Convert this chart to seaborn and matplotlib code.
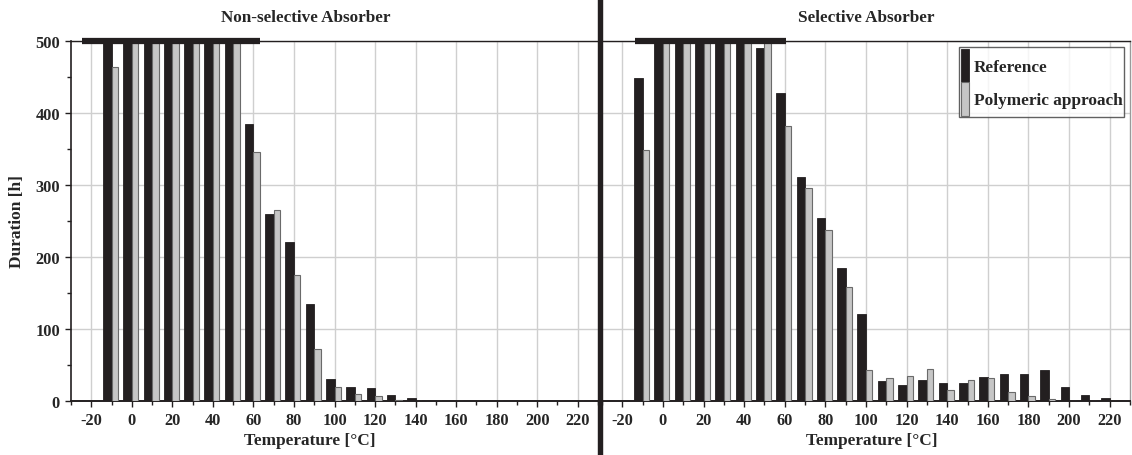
import seaborn as sns
import numpy as np
import matplotlib.pyplot as plt
from matplotlib.lines import Line2D
from matplotlib.ticker import MultipleLocator

# temperature bins [°C] and durations [h]; values above 500 are clipped at the top
temps = [-10, 0, 10, 20, 30, 40, 50, 60, 70, 80, 90, 100, 110, 120, 130, 140,
         150, 160, 170, 180, 190, 200, 210, 220]

ns_reference = [500, 500, 500, 500, 500, 500, 500, 384, 259, 221, 134, 30, 19.5, 18, 8, 3.5,
                0, 0, 0, 0, 0, 0, 0, 0]
ns_polymeric = [463, 500, 500, 500, 500, 500, 500, 345, 265, 174, 72, 18.5, 10, 7, 1.5, 0,
                0, 0, 0, 0, 0, 0, 0, 0]

sel_reference = [448, 500, 500, 500, 500, 500, 490, 428, 311, 254, 185, 121, 28, 22, 29, 24.5,
                 24.5, 33, 37, 37, 43, 19, 8, 3.7]
sel_polymeric = [348, 500, 500, 500, 500, 500, 500, 382, 296, 237, 157.5, 42.5, 31, 35, 43.5, 15,
                 28.5, 31, 11.5, 6, 2, 0, 0, 0]

panels = [("Non-selective Absorber", ns_reference, ns_polymeric, (-24.7, 63)),
          ("Selective Absorber", sel_reference, sel_polymeric, (-13.7, 60.6))]

sns.set_style("white")
plt.rcParams['font.family'] = ['Liberation Serif', 'DejaVu Serif']
plt.rcParams['font.weight'] = 'bold'
plt.rcParams['axes.labelweight'] = 'bold'
plt.rcParams['axes.unicode_minus'] = False

black = '#231f20'
grey = '#c6c6c6'

fig = plt.figure(figsize=(11.32, 4.56), dpi=100)
ax1 = fig.add_axes([71 / 1132, 1 - 401.7 / 456, 527 / 1132, 360 / 456])
ax2 = fig.add_axes([602 / 1132, 1 - 401.7 / 456, 528 / 1132, 360 / 456])

for i, (ax, (title, ref, poly, cap)) in enumerate(zip([ax1, ax2], panels)):
    ax.bar(temps, ref, width=-4.2, align='edge', color=black, edgecolor=black,
           linewidth=0.6, label='Reference', zorder=3)
    ax.bar(temps, poly, width=3.2, align='edge', color=grey, edgecolor='#6a6a6a',
           linewidth=0.8, label='Polymeric approach', zorder=3)
    ax.set_xlim(-30, 230)
    ax.set_ylim(0, 500)
    ax.xaxis.set_major_locator(MultipleLocator(20))
    ax.xaxis.set_minor_locator(MultipleLocator(10))
    ax.yaxis.set_major_locator(MultipleLocator(100))
    ax.yaxis.set_minor_locator(MultipleLocator(50))
    ax.grid(True, which='major', color='#cfcfcf', linewidth=1.0, zorder=0)
    ax.set_axisbelow(True)
    ax.tick_params(axis='x', which='major', direction='out', length=4, width=1,
                   color=black, labelsize=11.8, pad=4, bottom=True)
    ax.tick_params(axis='x', which='minor', direction='out', length=3, width=1,
                   color=black, bottom=True)
    for lab in ax.get_xticklabels():
        lab.set_fontweight('bold')
    ax.spines['bottom'].set_linewidth(1.4)
    ax.spines['bottom'].set_color(black)
    ax.spines['top'].set_linewidth(1.0)
    ax.spines['top'].set_color(black)
    # thick bar marking the clipped columns
    ax.hlines(500, cap[0], cap[1], color=black, linewidth=4.5, clip_on=False, zorder=5)
    ax.set_xlabel("Temperature [°C]", fontsize=12.4, fontweight='bold')

    if i == 0:
        ax.tick_params(axis='y', which='major', direction='out', length=4, width=1,
                       color=black, labelsize=11.8, pad=4, left=True)
        ax.tick_params(axis='y', which='minor', direction='out', length=3, width=1,
                       color=black, left=True)
        for lab in ax.get_yticklabels():
            lab.set_fontweight('bold')
        ax.spines['left'].set_color(black)
        ax.spines['left'].set_linewidth(1.2)
        ax.spines['right'].set_visible(False)
        ax.set_ylabel("Duration [h]", fontsize=12.5, fontweight='bold')
        ax.yaxis.set_label_coords(-0.087, 0.5)
        ax.xaxis.set_label_coords(0.453, -0.088)
        ax.text(0.446, 1.065, title, transform=ax.transAxes, ha='center', va='center',
                fontsize=12.3, fontweight='bold')
    else:
        ax.tick_params(axis='y', left=False, labelleft=False)
        ax.spines['left'].set_visible(False)
        ax.spines['right'].set_color('#9a9a9a')
        ax.spines['right'].set_linewidth(1.0)
        ax.xaxis.set_label_coords(0.51, -0.088)
        ax.text(0.5, 1.065, title, transform=ax.transAxes, ha='center', va='center',
                fontsize=12.3, fontweight='bold')
        leg = ax.legend(loc='upper right', bbox_to_anchor=(0.989, 0.982), fancybox=False,
                        frameon=True, handlelength=0.5, handleheight=2.6, labelspacing=0.0,
                        handletextpad=0.25, borderpad=0.1, borderaxespad=0,
                        prop={'weight': 'bold', 'size': 12.4})
        leg.get_frame().set_edgecolor('#3a3a3a')
        leg.get_frame().set_linewidth(1.0)
        leg.set_zorder(6)

# divider between the two panels
fig.add_artist(Line2D([600 / 1132, 600 / 1132], [0, 1], color=black, linewidth=3.9))

fig.savefig("out.png", dpi=100)
